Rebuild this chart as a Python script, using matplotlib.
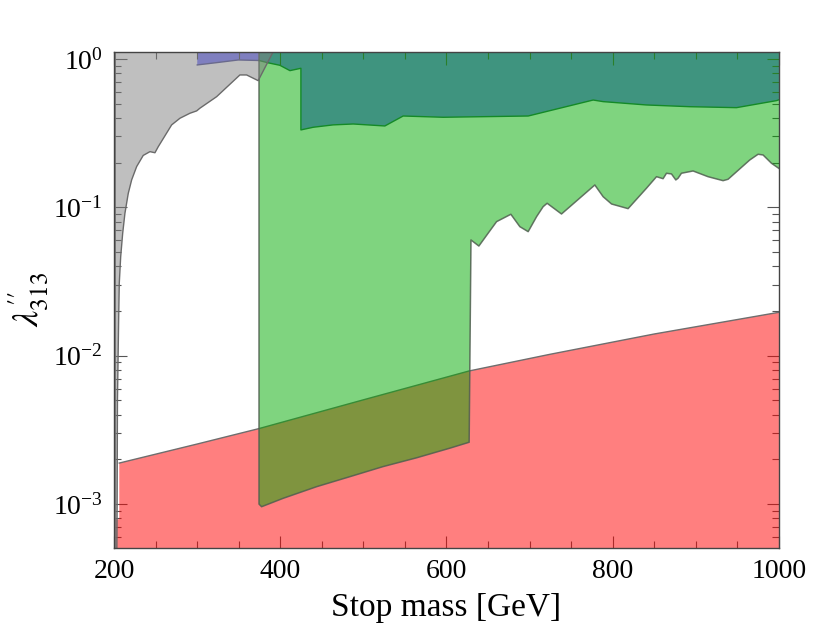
import numpy as np
import matplotlib
matplotlib.use("Agg")
import matplotlib.pyplot as plt
import matplotlib.ticker as ticker

plt.rcParams["font.family"] = "serif"
plt.rcParams["font.serif"] = ["Liberation Serif", "DejaVu Serif"]
plt.rcParams["mathtext.fontset"] = "stix"

# ---------------------------------------------------------------------------
# Data (stop mass in GeV, coupling lambda''_313)
# ---------------------------------------------------------------------------

X_MIN, X_MAX = 200, 1000
Y_MIN, Y_MAX = 5.06e-4, 1.118

# red: lower excluded band
red_m   = [206.4, 300.2, 374.8, 500.0, 627.3, 724.0, 850.0, 1000.0]
red_lam = [1.89e-3, 2.54e-3, 3.23e-3, 5.04e-3, 7.89e-3, 1.02e-2, 1.40e-2, 1.96e-2]
red_step_m, red_step_lam = 206.4, 7.9e-4

# green: lower edge (375..627) and jagged upper edge of the allowed window
green_lo_m   = [374.5, 377.6, 403.6, 443.8, 483.8, 523.9, 564.0, 604.0, 627.3]
green_lo_lam = [1.0e-3, 9.6e-4, 1.094e-3, 1.31e-3, 1.53e-3, 1.79e-3, 2.05e-3,
                2.38e-3, 2.61e-3]
green_up_m   = [629.5, 639.0, 650.1, 660.3, 677.5, 688.3, 698.3, 708.4, 716.3,
                721.1, 738.4, 778.5, 788.5, 798.6, 818.5, 840.6, 852.7, 860.6,
                864.7, 870.7, 875.9, 878.6, 882.7, 896.7, 914.7, 932.8, 938.8,
                964.9, 974.9, 980.9, 991.0, 1000.0]
green_up_lam = [0.0602, 0.0548, 0.0668, 0.0800, 0.0897, 0.0740, 0.0685, 0.0864,
                0.1009, 0.1064, 0.0901, 0.1413, 0.1178, 0.1052, 0.0979, 0.1343,
                0.1607, 0.1558, 0.1695, 0.1677, 0.1528, 0.1568, 0.1695, 0.1756,
                0.1607, 0.1511, 0.1544, 0.2083, 0.2276, 0.2251, 0.1979, 0.1826]

# blue: upper band (lower edge)
blue_m   = [300.2, 323.5, 349.5, 374.5, 385.6, 399.6, 411.7, 424.9, 424.9,
            439.7, 463.7, 487.8, 525.9, 547.9, 596.0, 698.3, 776.5, 788.5,
            840.6, 892.7, 948.9, 997.0, 1000.0]
blue_lam = [0.91, 0.943, 0.983, 0.975, 0.94, 0.905, 0.833, 0.864, 0.332,
            0.346, 0.359, 0.364, 0.353, 0.412, 0.404, 0.412, 0.528, 0.515,
            0.489, 0.476, 0.469, 0.523, 0.53]

# gray: low-mass excluded region (right edge)
gray_m   = [203.5, 203.8, 204.2, 205.7, 206.4, 208.1, 210.5, 213.2, 217.2,
            221.3, 227.3, 235.2, 243.3, 249.3, 253.3, 269.4, 279.4, 291.4,
            299.5, 303.4, 323.5, 351.5, 359.6, 373.5, 391.6]
gray_lam = [5.0e-4, 1.0e-3, 5.0e-3, 0.0183, 0.0308, 0.0465, 0.0668, 0.0911,
            0.124, 0.153, 0.188, 0.2235, 0.237, 0.233, 0.256, 0.359, 0.398,
            0.430, 0.446, 0.465, 0.556, 0.779, 0.779, 0.713, 1.118]

# ---------------------------------------------------------------------------
# Style
# ---------------------------------------------------------------------------

BLUE_FILL  = (0.0, 0.0, 1.0, 0.5)
RED_FILL   = (1.0, 0.0, 0.0, 0.5)
GREEN_FILL = (0.0, 0.667, 0.0, 0.5)
GRAY_FILL  = (0.5, 0.5, 0.5, 0.5)

fig = plt.figure(figsize=(8.3, 6.41), dpi=100)
ax = fig.add_axes([0.1373, 0.1451, 0.8012, 0.7743])
ax.set_yscale("log")

# blue band (drawn first, the others overlay it)
bx = [blue_m[0]] + blue_m + [blue_m[-1]]
by = [Y_MAX] + blue_lam + [Y_MAX]
ax.fill(bx, by, facecolor=BLUE_FILL, edgecolor="none", zorder=1)
ax.plot(blue_m[:4], blue_lam[:4], color="#55559a", lw=1.0, zorder=1.5)
ax.plot(blue_m[3:], blue_lam[3:], color="#2a6a50", lw=1.0, zorder=1.5)

# red band (reaches the left axis only below the step)
rx = [X_MIN, X_MIN, red_step_m] + red_m + [red_m[-1]]
ry = [Y_MIN, red_step_lam, red_step_lam] + red_lam + [Y_MIN]
ax.fill(rx, ry, facecolor=RED_FILL, edgecolor="none", zorder=2)
ax.plot(red_m, red_lam, color="#6e6e6e", lw=1.0, zorder=2.5)

# green region
gx = [green_lo_m[0]] + green_lo_m + green_up_m + [green_up_m[-1]]
gy = [Y_MAX] + green_lo_lam + green_up_lam + [Y_MAX]
ax.fill(gx, gy, facecolor=GREEN_FILL, edgecolor="none", zorder=3)
ax.plot(gx[:-1], gy[:-1], color="#4f5f4f", lw=1.1, alpha=0.85, zorder=3.5)

# gray region
hx = [X_MIN, gray_m[-1]] + gray_m[::-1] + [X_MIN]
hy = [Y_MAX, Y_MAX] + gray_lam[::-1] + [Y_MIN]
ax.fill(hx, hy, facecolor=GRAY_FILL, edgecolor="none", zorder=4)
ax.plot(gray_m, gray_lam, color="#6a6a6a", lw=1.0, zorder=4.5)
ax.plot([X_MIN, X_MIN], [Y_MIN, Y_MAX], color="#7a7a7a", lw=2.0, zorder=4.5)

# axes
ax.set_xlim(X_MIN, X_MAX)
ax.set_ylim(Y_MIN, Y_MAX)

ax.xaxis.set_major_locator(ticker.MultipleLocator(200))
ax.xaxis.set_minor_locator(ticker.MultipleLocator(50))
ax.yaxis.set_major_locator(ticker.LogLocator(base=10, numticks=10))
ax.yaxis.set_minor_locator(ticker.LogLocator(base=10, subs=np.arange(2, 10), numticks=20))
ax.yaxis.set_major_formatter(ticker.LogFormatterMathtext())
ax.yaxis.set_minor_formatter(ticker.NullFormatter())

ax.tick_params(which="both", direction="in", top=True, right=True,
               color="#555555", width=0.8, zorder=10)
ax.tick_params(which="major", length=9, labelsize=20, pad=8)
ax.tick_params(which="minor", length=4.8)

for spine in ax.spines.values():
    spine.set_edgecolor("#444444")
    spine.set_linewidth(1.0)
    spine.set_zorder(10)

ax.set_xlabel("Stop mass [GeV]", fontsize=24, labelpad=6)
ax.set_ylabel(r"$\lambda^{\prime\prime}_{313}$", fontsize=26, labelpad=2)

fig.savefig("out.png", dpi=100, facecolor="white")
